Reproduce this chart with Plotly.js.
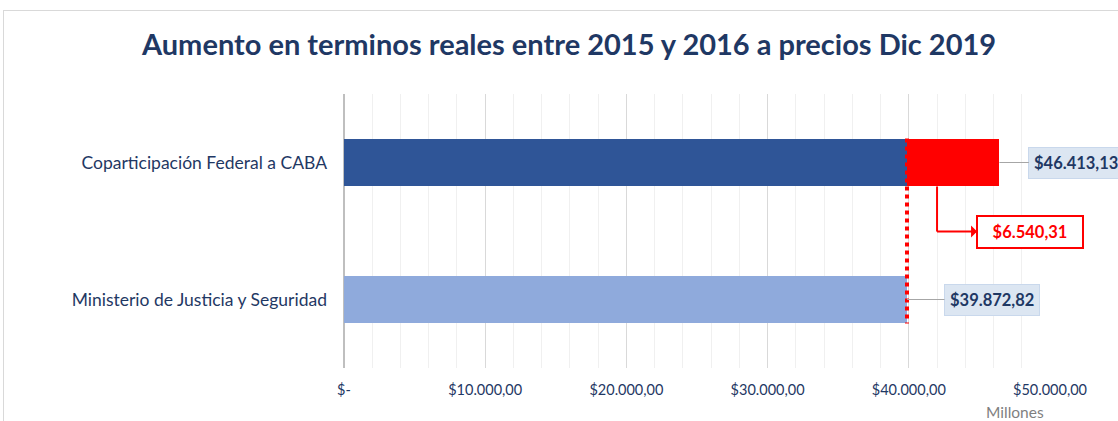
<!DOCTYPE html>
<html><head><meta charset="utf-8">
<script src="https://cdn.plot.ly/plotly-3.0.1.min.js"></script>
<style>
html,body{margin:0;padding:0;background:#fff;}
#wrap{position:relative;width:1118px;height:421px;overflow:hidden;}
#frame{position:absolute;left:3px;top:10px;width:1130px;height:430px;border:1px solid #d9d9d9;box-sizing:border-box;}
#chart{position:absolute;left:0;top:0;width:1118px;height:421px;}
</style></head>
<body><div id="wrap"><div id="frame"></div><div id="chart"></div></div>
<script>
const categories = ["Ministerio de Justicia y Seguridad", "Coparticipación Federal a CABA"];
const baseValues = [39872.82, 39872.82];
const increaseValues = [0, 6540.31];
const totals = [39872.82, 46413.13];
const totalLabels = ["$39.872,82", "$46.413,13"];
const increaseLabel = "$6.540,31";
const tickVals = [0, 10000, 20000, 30000, 40000, 50000];
const tickText = ["$-", "$10.000,00", "$20.000,00", "$30.000,00", "$40.000,00", "$50.000,00"];

const navy = "#1F3864";
const font = "Lato, 'Noto Sans', sans-serif";
const bw = 0.35;

const traces = [
  {type:"bar", orientation:"h", y:categories, x:baseValues, width:[bw,bw],
   marker:{color:["#8FAADC","#2F5597"], line:{width:0}}, hoverinfo:"skip"},
  {type:"bar", orientation:"h", y:categories, x:increaseValues, width:[bw,bw],
   marker:{color:"#FF0000", line:{width:0}}, hoverinfo:"skip"}
];

const annotations = [
  {x:totals[1], y:1, xref:"x", yref:"y", text:totalLabels[1], showarrow:true,
   ax:77, ay:0, arrowhead:0, arrowwidth:1.2, arrowcolor:"#a6a6a6", standoff:0,
   bgcolor:"#DCE6F2", bordercolor:"#C9D8EC", borderwidth:1, borderpad:5,
   font:{family:font, size:16.5, color:navy, weight:"bold"}},
  {x:totals[0], y:0, xref:"x", yref:"y", text:totalLabels[0], showarrow:true,
   ax:85, ay:0, arrowhead:0, arrowwidth:1.2, arrowcolor:"#a6a6a6", standoff:0,
   bgcolor:"#DCE6F2", bordercolor:"#C9D8EC", borderwidth:1, borderpad:5,
   font:{family:font, size:16.5, color:navy, weight:"bold"}},
  {x:42000, y:0.496, xref:"x", yref:"y", text:increaseLabel, showarrow:true,
   width:94, height:20,
   ax:93, ay:0, arrowhead:2, arrowsize:1, arrowside:"start", arrowwidth:2, arrowcolor:"#FF0000",
   bgcolor:"#ffffff", bordercolor:"#FF0000", borderwidth:2, borderpad:5,
   font:{family:font, size:16.5, color:"#FF0000", weight:"bold"}},
  {text:"Millones", showarrow:false, xref:"paper", yref:"paper",
   font:{family:font, size:15.5, color:"#7f7f7f"}}
];
annotations[3].x = (1015-344)/(1118-344-68);
annotations[3].y = (421-53-412)/(421-94-53);
annotations[3].xanchor = "center"; annotations[3].yanchor = "middle";

const layout = {
  width:1118, height:421,
  margin:{l:344, r:68, t:94, b:53},
  paper_bgcolor:"rgba(0,0,0,0)", plot_bgcolor:"rgba(0,0,0,0)",
  barmode:"stack", showlegend:false,
  title:{text:"Aumento en terminos reales entre 2015 y 2016 a precios Dic 2019",
    x:0.509, xanchor:"center", y:0.893, yanchor:"middle",
    font:{family:font, size:29, color:navy, weight:"bold"}},
  xaxis:{range:[0,50000], tickvals:tickVals, ticktext:tickText,
    showgrid:true, gridcolor:"#d9d9d9", gridwidth:1.2,
    minor:{dtick:2000, showgrid:true, gridcolor:"#f0f0f0", gridwidth:1},
    zeroline:true, zerolinecolor:"#bfbfbf", zerolinewidth:1.5,
    showline:false, ticks:"", ticklabelstandoff:11,
    tickfont:{family:font, size:14.5, color:navy}, fixedrange:true},
  yaxis:{range:[-0.5,1.5], showgrid:false, zeroline:false, showline:false, ticks:"",
    ticklabelstandoff:16, tickfont:{family:font, size:17.5, color:navy}, fixedrange:true},
  shapes:[
    {type:"line", xref:"x", yref:"y", x0:totals[0], x1:totals[0], y0:1+bw/2, y1:-bw/2,
     line:{color:"#FF0000", width:4, dash:"dot"}, layer:"above"},
    {type:"line", xref:"x", yref:"y", x0:42000, x1:42000, y0:1-bw/2, y1:0.496,
     line:{color:"#FF0000", width:2}, layer:"above"}
  ],
  annotations:annotations
};

Plotly.newPlot("chart", traces, layout, {displayModeBar:false, staticPlot:true});
</script></body></html>
